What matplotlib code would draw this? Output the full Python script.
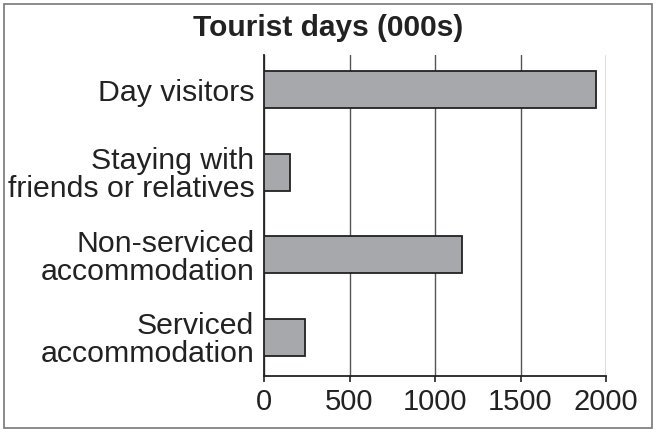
import matplotlib.pyplot as plt
from matplotlib.patches import Rectangle

# data (bottom to top)
categories = ["Serviced\naccommodation", "Non-serviced\naccommodation",
              "Staying with\nfriends or relatives", "Day visitors"]
values = [240, 1160, 150, 1940]
xticks = [0, 500, 1000, 1500, 2000]

plt.rcParams['font.family'] = ['Liberation Sans', 'DejaVu Sans']

fig = plt.figure(figsize=(6.56, 4.32), dpi=100)
ax = fig.add_axes([264 / 656, 56 / 432, 342 / 656, 321 / 432])

ax.barh(range(len(categories)), values, height=0.45,
        color="#a7a8ab", edgecolor="#222222", linewidth=1.3, zorder=3)

ax.set_xlim(0, 2000)
ax.set_ylim(-0.47, 3.42)
ax.set_xticks(xticks)
ax.set_xticklabels([str(t) for t in xticks])
ax.set_yticks(range(len(categories)))
ax.set_yticklabels(categories, linespacing=1.0)

ax.tick_params(axis="x", labelsize=21, length=4, width=1.2, pad=5,
               color="#222222", labelcolor="#222222")
ax.tick_params(axis="y", labelsize=21.8, length=0, pad=7, labelcolor="#222222")

ax.grid(axis="x", color="#555555", linewidth=1.0, zorder=0)
for s in ["top", "right"]:
    ax.spines[s].set_visible(False)
ax.spines["left"].set_linewidth(1.3)
ax.spines["bottom"].set_linewidth(1.3)
ax.spines["left"].set_color("#222222")
ax.spines["bottom"].set_color("#222222")

fig.text(0.5, 1 - 28 / 432, "Tourist days (000s)", ha="center", va="center",
         fontsize=21.5, fontweight="bold", color="#222222")

fig.patches.append(Rectangle((4 / 656, 4 / 432), 648 / 656, 424 / 432,
                             transform=fig.transFigure, fill=False,
                             edgecolor="#777777", linewidth=1.2))

fig.savefig("out.png", dpi=100)
